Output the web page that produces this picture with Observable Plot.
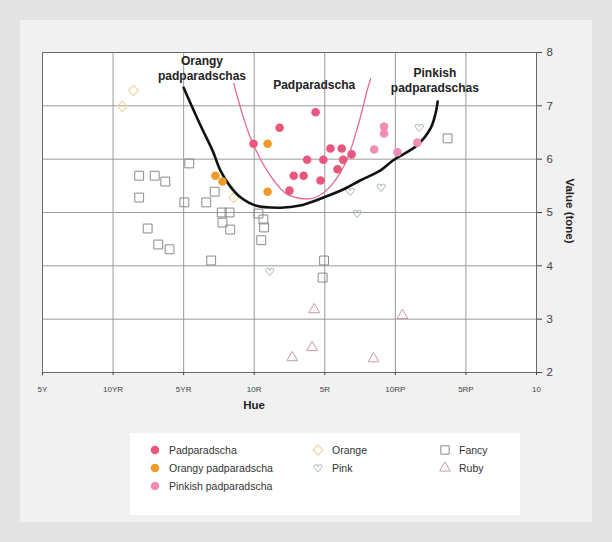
<!DOCTYPE html>
<html><head><meta charset="utf-8">
<script src="https://cdn.jsdelivr.net/npm/d3@7"></script>
<script src="https://cdn.jsdelivr.net/npm/@observablehq/plot@0.6"></script>
<style>
body{margin:0;width:612px;height:542px;background:#e3e3e3;font-family:"Liberation Sans",Arial,sans-serif;overflow:hidden;position:relative}
#panel{position:absolute;left:20px;top:20px;width:572px;height:502px;background:#f1f1f1}
#chart{position:absolute;left:0;top:0}
.lab{position:absolute;font-weight:bold;font-size:11.5px;color:#222;white-space:nowrap}
#legend{position:absolute;left:130px;top:433px;width:390px;height:82px;background:#fff}
.li{position:absolute;font-size:10.5px;color:#333;white-space:nowrap;line-height:12px}
.ls{position:absolute}
</style></head><body>
<div id="panel"></div>
<div id="chart"></div>
<div class="lab" style="left:254px;top:405px;transform:translate(-50%,-50%)">Hue</div>
<div class="lab" style="left:570px;top:211px;transform:translate(-50%,-50%) rotate(90deg)">Value (tone)</div>
<div id="legend"></div>
<script>
// Munsell hue positions (index 0..7) and labels
const hueTicks = [0,1,2,3,4,5,6,7];
const hueLabels = ["5Y","10YR","5YR","10R","5R","10RP","5RP","10"];
const valueTicks = [2,3,4,5,6,7,8];

// [hue index, value]
const padparadscha = [[3.87,6.88],[3.36,6.59],[2.99,6.29],[4.08,6.20],[4.24,6.20],[4.38,6.09],[3.75,5.99],[3.98,5.99],[4.26,5.99],[3.56,5.69],[3.70,5.69],[3.94,5.60],[4.18,5.81],[3.50,5.41]];
const orangyPad = [[3.19,6.29],[3.19,5.39],[2.45,5.69],[2.55,5.58]];
const pinkishPad = [[4.84,6.61],[4.84,6.48],[4.70,6.18],[5.03,6.13],[5.31,6.31]];
const orange = [[1.13,6.99],[1.29,7.29],[2.71,5.28]];
const pink = [[5.34,6.59],[3.22,3.89],[4.46,4.98],[4.80,5.47],[4.36,5.39]];
const fancy = [[1.37,5.69],[1.59,5.69],[1.74,5.58],[1.37,5.28],[2.08,5.92],[2.01,5.19],[2.32,5.19],[2.44,5.39],[1.49,4.70],[1.64,4.40],[1.80,4.31],[2.39,4.10],[2.54,5.00],[2.65,5.00],[2.55,4.81],[2.66,4.68],[3.06,4.98],[3.13,4.87],[3.14,4.72],[3.10,4.48],[3.99,4.10],[3.97,3.78],[5.74,6.39]];
const ruby = [[3.85,3.18],[3.82,2.47],[3.54,2.28],[4.69,2.26],[5.10,3.07]];

// boundary curves
const boundaryCurve = [[2.00,7.34],[2.24,6.63],[2.41,6.16],[2.52,5.79],[2.66,5.49],[2.81,5.28],[3.02,5.13],[3.37,5.09],[3.65,5.13],[3.98,5.28],[4.29,5.45],[4.50,5.60],[4.79,5.79],[4.97,5.98],[5.31,6.26],[5.50,6.58],[5.57,6.86],[5.60,7.08]];
const padCurve = [[2.71,7.42],[2.95,6.39],[3.23,5.69],[3.47,5.34],[3.80,5.26],[4.02,5.41],[4.29,5.92],[4.48,6.67],[4.60,7.29],[4.65,7.51]];

const annotations = [
  {hue:2.26, value:7.71, text:"Orangy\npadparadschas"},
  {hue:3.85, value:7.40, text:"Padparadscha"},
  {hue:5.56, value:7.49, text:"Pinkish\npadparadschas"}
];

const legendItems = [
  ["Padparadscha","pad"],["Orangy padparadscha","orangy"],["Pinkish padparadscha","pinkish"],
  ["Orange","orange"],["Pink","pink"],["Fancy","fancy"],["Ruby","ruby"]
];

const C = {pad:"#e9587c", orangy:"#f09a2c", pinkish:"#f08db5", orange:"#f1d49a", pink:"#a8b6c0", fancy:"#8a8a8a", ruby:"#c99aa5"};

const heart = {draw(ctx, size){
  const r = Math.sqrt(size/Math.PI)*1.05;
  ctx.moveTo(0, r*0.95);
  ctx.lineTo(-r, -0.25*r);
  ctx.arc(-r/2, -0.3*r, r/2, Math.PI, 2*Math.PI);
  ctx.arc(r/2, -0.3*r, r/2, Math.PI, 2*Math.PI);
  ctx.closePath();
}};

const X = d => d[0], Y = d => d[1];
const chart = Plot.plot({
  width:612, height:430,
  marginLeft:42, marginRight:76, marginTop:52, marginBottom:58,
  style:{background:"transparent", fontFamily:"Liberation Sans, Arial, sans-serif", color:"#444"},
  x:{domain:[0,7]}, y:{domain:[2,8]},
  marks:[
    Plot.frame({fill:"white"}),
    Plot.gridX(hueTicks,{stroke:"#9a9a9a", strokeOpacity:1}),
    Plot.gridY(valueTicks,{stroke:"#9a9a9a", strokeOpacity:1}),
    Plot.frame({stroke:"#6a6a6a"}),
    Plot.axisX(hueTicks,{tickFormat:i=>hueLabels[i], fontSize:8, tickSize:3, tickPadding:11, label:null}),
    Plot.axisY(valueTicks,{anchor:"right", tickFormat:d=>String(d), tickSize:5, fontSize:11.5, tickPadding:5, label:null}),
    Plot.dot(fancy,{x:X, y:Y, symbol:"square", r:5, stroke:C.fancy, strokeWidth:1, fill:"none"}),
    Plot.dot(ruby,{x:X, y:Y, symbol:"triangle", r:4, stroke:C.ruby, strokeWidth:1, fill:"none"}),
    Plot.dot(pink,{x:X, y:Y, symbol:heart, r:4, stroke:C.pink, strokeWidth:1, fill:"none"}),
    Plot.dot(orange,{x:X, y:Y, symbol:"diamond2", r:4.5, stroke:C.orange, strokeWidth:1.2, fill:"none"}),
    Plot.line(padCurve,{x:X, y:Y, curve:"catmull-rom", stroke:"#e3688a", strokeWidth:1.3}),
    Plot.line(boundaryCurve,{x:X, y:Y, curve:"catmull-rom", stroke:"#111", strokeWidth:2.6}),
    Plot.dot(pinkishPad,{x:X, y:Y, r:4.3, fill:C.pinkish}),
    Plot.dot(orangyPad,{x:X, y:Y, r:4.3, fill:C.orangy}),
    Plot.dot(padparadscha,{x:X, y:Y, r:4.3, fill:C.pad}),
    Plot.text(annotations,{x:"hue", y:"value", text:"text", fontSize:12, fontWeight:"bold", fill:"#222", lineHeight:1.25})
  ]
});
document.getElementById("chart").appendChild(chart);

// legend
const pos = {pad:[25,17],orangy:[25,35],pinkish:[25,53],orange:[188,17],pink:[188,35],fancy:[315,17],ruby:[315,35]};
const lg = document.getElementById("legend");
function sym(k){
  const s = 14, c = 7;
  let inner = "";
  if (k==="pad"||k==="orangy"||k==="pinkish") inner = `<circle cx="${c}" cy="${c}" r="4.3" fill="${C[k]}"/>`;
  else if (k==="orange") inner = `<path d="${d3.symbol(d3.symbolDiamond2, 64)()}" transform="translate(${c},${c})" fill="none" stroke="${C[k]}" stroke-width="1.2"/>`;
  else if (k==="pink") inner = `<path d="${d3.symbol(heart, 50)()}" transform="translate(${c},${c})" fill="none" stroke="${C[k]}"/>`;
  else if (k==="fancy") inner = `<path d="${d3.symbol(d3.symbolSquare, 70)()}" transform="translate(${c},${c})" fill="none" stroke="${C[k]}"/>`;
  else inner = `<path d="${d3.symbol(d3.symbolTriangle, 50)()}" transform="translate(${c},${c})" fill="none" stroke="${C[k]}"/>`;
  return `<svg width="${s}" height="${s}">${inner}</svg>`;
}
for (const [label,k] of legendItems){
  const [x,y] = pos[k];
  const sEl = document.createElement("div"); sEl.className="ls";
  sEl.style.left=(x-7)+"px"; sEl.style.top=(y-7)+"px"; sEl.innerHTML = sym(k);
  const t = document.createElement("div"); t.className="li";
  t.style.left=(x+14)+"px"; t.style.top=(y-6)+"px"; t.textContent=label;
  lg.appendChild(sEl); lg.appendChild(t);
}
</script>
</body></html>
